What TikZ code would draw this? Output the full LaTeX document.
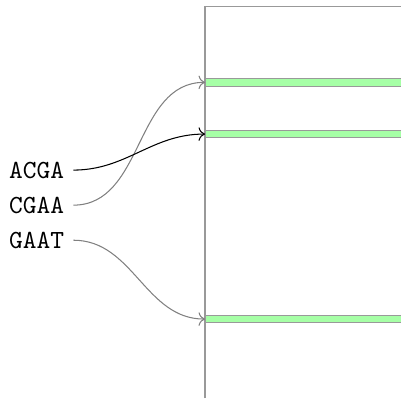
\documentclass[tikz,border=0pt]{standalone}
\usepackage{tikz}
\usetikzlibrary{positioning,arrows.meta}

\begin{document}
\begin{tikzpicture}[
    read/.style={font=\ttfamily, anchor=west},
    hit/.style={rectangle, draw=gray!80, fill=green!35, minimum width=2.8cm, minimum height=0.1cm, inner sep=0pt, anchor=west},
    axis/.style={draw=gray!80},
    link/.style={->, gray, out=0, in=180}
]
    \clip (-2.755,0) rectangle (2.634,5.35);

    \draw[axis] (0,0) -- (0,5.262) -- (2.7,5.262);

    \node[hit] (hit1) at (0,4.243) {};
    \node[hit] (hit2) at (0,3.548) {};
    \node[hit] (hit3) at (0,1.062) {};
    \draw[axis] (0,0) -- (0,5.262);

    \node[read] (acga) at (-2.755,3.064) {ACGA};
    \node[read, below=0pt of acga] (cgaa) {CGAA};
    \node[read, below=0pt of cgaa] (gaat) {GAAT};

    \draw[link] (cgaa.east) to (hit1.west);
    \draw[link, black] (acga.east) to (hit2.west);
    \draw[link] (gaat.east) to (hit3.west);
\end{tikzpicture}
\end{document}
